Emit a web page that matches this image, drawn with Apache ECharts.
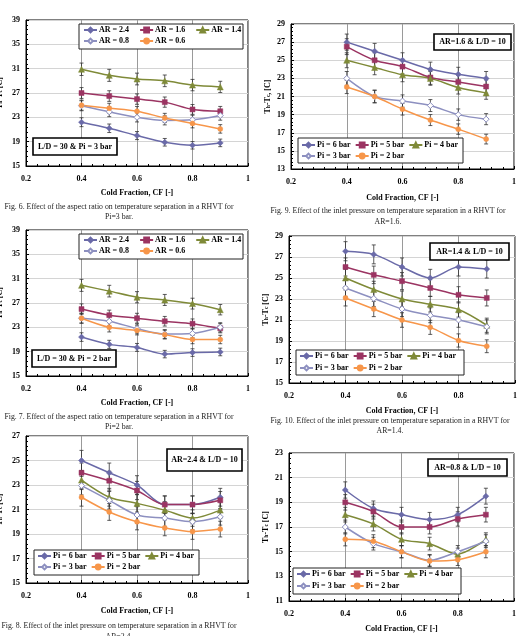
<!DOCTYPE html>
<html>
<head>
<meta charset="utf-8">
<script src="https://cdn.jsdelivr.net/npm/echarts@6/dist/echarts.min.js"></script>
<style>
  html, body { margin: 0; padding: 0; background: #fff; }
  #chart { width: 526px; height: 636px; }
</style>
</head>
<body>
<div id="chart"></div>
<script>
// cold fraction values (x)
const cf = [0.4, 0.5, 0.6, 0.7, 0.8, 0.9];
const arNames = ['AR = 2.4', 'AR = 1.6', 'AR = 1.4', 'AR = 0.8', 'AR = 0.6'];
const piNames = ['Pi = 6 bar', 'Pi = 5 bar', 'Pi = 4 bar', 'Pi = 3 bar', 'Pi = 2 bar'];

// Fig. 6 : L/D = 30, Pi = 3 bar
const f6_ar24 = [22.2, 21.2, 20.0, 18.9, 18.4, 18.8];
const f6_ar16 = [27.0, 26.5, 26.0, 25.5, 24.3, 24.0];
const f6_ar14 = [30.9, 29.9, 29.3, 29.0, 28.3, 28.0];
const f6_ar08 = [24.9, 23.9, 23.0, 22.5, 22.6, 23.3];
const f6_ar06 = [25.0, 24.5, 24.0, 22.9, 22.0, 21.1];

// Fig. 7 : L/D = 30, Pi = 2 bar
const f7_ar24 = [21.4, 20.2, 19.7, 18.6, 18.85, 18.95];
const f7_ar16 = [26.0, 25.0, 24.5, 24.0, 23.6, 22.85];
const f7_ar14 = [29.9, 28.95, 27.95, 27.5, 26.9, 25.9];
const f7_ar08 = [24.5, 24.0, 22.8, 21.9, 22.0, 23.0];
const f7_ar06 = [24.5, 23.0, 22.5, 21.8, 21.0, 21.0];

// Fig. 8 : AR = 2.4, L/D = 10
const f8_p6 = [25.0, 24.0, 23.0, 21.4, 21.4, 22.0];
const f8_p5 = [24.0, 23.35, 22.55, 21.4, 21.4, 21.75];
const f8_p4 = [23.4, 22.0, 21.5, 20.95, 20.3, 20.95];
const f8_p3 = [22.95, 21.75, 20.55, 20.3, 20.0, 20.4];
const f8_p2 = [22.0, 20.8, 20.0, 19.5, 19.2, 19.4];

// Fig. 9 : AR = 1.6, L/D = 10
const f9_p6 = [27.0, 26.0, 25.0, 24.0, 23.45, 23.0];
const f9_p5 = [26.5, 25.0, 24.3, 23.1, 22.6, 22.1];
const f9_p4 = [25.0, 24.2, 23.4, 23.0, 22.0, 21.4];
const f9_p3 = [23.0, 21.0, 20.5, 20.0, 19.0, 18.5];
const f9_p2 = [22.05, 21.0, 19.6, 18.4, 17.4, 16.3];

// Fig. 10 : AR = 1.4, L/D = 10
const f10_p6 = [27.55, 27.25, 26.05, 25.0, 26.05, 25.85];
const f10_p5 = [26.05, 25.3, 24.7, 24.05, 23.4, 23.1];
const f10_p4 = [25.0, 23.9, 23.0, 22.5, 22.0, 20.5];
const f10_p3 = [24.05, 23.05, 22.05, 21.45, 21.0, 20.35];
const f10_p2 = [23.1, 22.05, 21.0, 20.3, 19.05, 18.5];

// Fig. 11 : AR = 0.8, L/D = 10
const f11_p6 = [20.0, 18.5, 18.0, 17.6, 18.0, 19.5];
const f11_p5 = [19.0, 18.25, 17.0, 17.0, 17.65, 18.0];
const f11_p4 = [18.0, 17.25, 16.0, 15.65, 14.8, 16.0];
const f11_p3 = [17.0, 15.65, 15.0, 14.3, 15.0, 15.85];
const f11_p2 = [16.0, 15.85, 15.0, 14.25, 14.35, 15.0];

// y axis ranges [min, max, interval]
const yRanges = [[15, 39, 4], [13, 29, 2], [15, 39, 4], [15, 29, 2], [15, 27, 2], [11, 23, 2]];

// relative measurement uncertainty shown as error bars
const errPct = 0.033;

const panels = [
  { names: arNames, data: [f6_ar24, f6_ar16, f6_ar14, f6_ar08, f6_ar06], note: 'L/D = 30 & Pi = 3 bar',
    cap: ['Fig. 6. Effect of the aspect ratio on temperature separation in a RHVT for', 'Pi=3 bar.'] },
  { names: piNames, data: [f9_p6, f9_p5, f9_p4, f9_p3, f9_p2], note: 'AR=1.6 & L/D = 10',
    cap: ['Fig. 9. Effect of the inlet pressure on temperature separation in a RHVT for', 'AR=1.6.'] },
  { names: arNames, data: [f7_ar24, f7_ar16, f7_ar14, f7_ar08, f7_ar06], note: 'L/D = 30 & Pi = 2 bar',
    cap: ['Fig. 7. Effect of the aspect ratio on temperature separation in a RHVT for', 'Pi=2 bar.'] },
  { names: piNames, data: [f10_p6, f10_p5, f10_p4, f10_p3, f10_p2], note: 'AR=1.4 & L/D = 10',
    cap: ['Fig. 10. Effect of the inlet pressure on temperature separation in a RHVT for', 'AR=1.4.'] },
  { names: piNames, data: [f8_p6, f8_p5, f8_p4, f8_p3, f8_p2], note: 'AR=2.4 & L/D = 10',
    cap: ['Fig. 8. Effect of the inlet pressure on temperature separation in a RHVT for', 'AR=2.4.'] },
  { names: piNames, data: [f11_p6, f11_p5, f11_p4, f11_p3, f11_p2], note: 'AR=0.8 & L/D = 10',
    cap: null }
];

// layout (pixels)
const layout = [
  { grid: [26, 20, 222, 146], gap: 23, yGap: 22, leg: [79, 24, 164, 25], rows: [31, 42], legLeft: 83, legGap: 10,
    box: [33, 138, 84, 17], capX: 119, capY: [207, 217] },
  { grid: [291, 24, 223, 145], gap: 25, yGap: 19, leg: [298, 138, 165, 25], rows: [146, 157], legLeft: 301, legGap: 4,
    box: [434, 34, 77, 16], capX: 388, capY: [211, 222] },
  { grid: [26, 230, 222, 146], gap: 23, yGap: 22, leg: [79, 234, 164, 25], rows: [241, 252], legLeft: 83, legGap: 10,
    box: [32, 350, 84, 17], capX: 119, capY: [417, 427] },
  { grid: [289, 236, 226, 147], gap: 24, yGap: 19, leg: [296, 350, 168, 25], rows: [357, 369], legLeft: 299, legGap: 4,
    box: [430, 243, 79, 17], capX: 390, capY: [421, 431] },
  { grid: [26, 436, 222, 147], gap: 24, yGap: 22, leg: [34, 550, 165, 25], rows: [557, 568], legLeft: 37, legGap: 4,
    box: [167, 449, 75, 22], capX: 119, capY: [626, 637] },
  { grid: [289, 453, 225, 148], gap: 24, yGap: 19, leg: [293, 568, 168, 26], rows: [575, 587], legLeft: 296, legGap: 4,
    box: [428, 459, 79, 17], capX: 390, capY: null }
];

const styles = [
  { color: '#6a6aa8', symbol: 'diamond', size: 6 },
  { color: '#9b3462', symbol: 'rect', size: 5 },
  { color: '#7f8a38', symbol: 'triangle', size: 6 },
  { color: '#8d90c0', symbol: 'diamond', size: 6, hollow: true },
  { color: '#f7964a', symbol: 'circle', size: 5 }
];

const FONT = '"Liberation Serif", "DejaVu Serif", serif';
const boldText = { fontFamily: FONT, fontWeight: 'bold', fontSize: 8, color: '#000' };

function renderErr(params, api) {
  const x = api.value(0);
  const lo = api.coord([x, api.value(1)]);
  const hi = api.coord([x, api.value(2)]);
  const w = 2;
  const st = { stroke: '#333', lineWidth: 0.8 };
  return {
    type: 'group',
    children: [
      { type: 'line', shape: { x1: lo[0], y1: lo[1], x2: hi[0], y2: hi[1] }, style: st },
      { type: 'line', shape: { x1: lo[0] - w, y1: lo[1], x2: lo[0] + w, y2: lo[1] }, style: st },
      { type: 'line', shape: { x1: hi[0] - w, y1: hi[1], x2: hi[0] + w, y2: hi[1] }, style: st }
    ]
  };
}

const grids = [], xAxes = [], yAxes = [], series = [], legends = [], graphics = [];

panels.forEach((p, i) => {
  const L = layout[i];
  const yr = yRanges[i];
  grids.push({ left: L.grid[0], top: L.grid[1], width: L.grid[2], height: L.grid[3],
    outerBoundsMode: 'none', containLabel: false,
    show: true, borderColor: '#000', borderWidth: 1, backgroundColor: 'transparent' });

  xAxes.push({
    type: 'value', gridIndex: i, min: 0.2, max: 1, interval: 0.2,
    name: 'Cold Fraction, CF [-]', nameLocation: 'middle', nameGap: L.gap,
    nameTextStyle: boldText,
    axisLine: { lineStyle: { color: '#000', width: 1 } },
    axisTick: { inside: true, length: 3, lineStyle: { color: '#000' } },
    minorTick: { show: true, splitNumber: 5, length: 2, lineStyle: { color: '#000' } },
    axisLabel: { ...boldText, margin: 9 },
    splitLine: { show: true, lineStyle: { color: '#9a9a9a', width: 1 } }
  });

  yAxes.push({
    type: 'value', gridIndex: i, min: yr[0], max: yr[1], interval: yr[2],
    name: i === 1 ? 'T{s|h}-T{s|c}, [C]' : 'T{s|h}-T{s|c} [C]',
    nameLocation: 'middle', nameGap: L.yGap,
    nameTextStyle: { ...boldText, rich: { s: { fontFamily: FONT, fontWeight: 'bold', fontSize: 5.5, verticalAlign: 'bottom', padding: [3, 0, 0, 0] } } },
    axisLine: { lineStyle: { color: '#000', width: 1 } },
    axisTick: { inside: true, length: 3, lineStyle: { color: '#000' } },
    minorTick: { show: true, splitNumber: 5, length: 2, lineStyle: { color: '#000' } },
    axisLabel: { ...boldText, margin: 6 },
    splitLine: { show: true, lineStyle: { color: '#d4d4d4', width: 1 } }
  });

  // error bars
  const errData = [];
  p.data.forEach(arr => {
    arr.forEach((v, k) => errData.push([cf[k], v * (1 - errPct), v * (1 + errPct)]));
  });
  series.push({
    type: 'custom', xAxisIndex: i, yAxisIndex: i, silent: true, z: 1,
    renderItem: renderErr, encode: { x: 0, y: [1, 2] }, data: errData
  });

  p.data.forEach((arr, s) => {
    const st = styles[s];
    series.push({
      name: p.names[s], type: 'line', xAxisIndex: i, yAxisIndex: i,
      data: arr.map((v, k) => [cf[k], v]),
      smooth: 0.3, symbol: st.symbol, symbolSize: st.size, showAllSymbol: true,
      lineStyle: { color: st.color, width: 1.5 },
      itemStyle: st.hollow
        ? { color: '#fff', borderColor: st.color, borderWidth: 1 }
        : { color: st.color, borderColor: st.color, borderWidth: 0.5 },
      z: 2, silent: true, animation: false
    });
  });

  // legend box and rows
  graphics.push({ type: 'rect', z: 10, silent: true,
    shape: { x: L.leg[0], y: L.leg[1], width: L.leg[2], height: L.leg[3] },
    style: { fill: '#fff', stroke: '#222', lineWidth: 1 } });
  [[0, 1, 2], [3, 4]].forEach((row, r) => {
    legends.push({
      left: L.legLeft, top: L.rows[r] - 5, padding: 0, itemGap: L.legGap,
      itemWidth: 13, itemHeight: 6, selectedMode: false, z: 20,
      textStyle: { ...boldText, padding: [0, 0, 0, -3] },
      data: row.map(k => p.names[k])
    });
  });

  // annotation box
  graphics.push({ type: 'rect', z: 10, silent: true,
    shape: { x: L.box[0], y: L.box[1], width: L.box[2], height: L.box[3] },
    style: { fill: '#fff', stroke: '#000', lineWidth: 1.6 } });
  graphics.push({ type: 'text', z: 11, silent: true,
    x: L.box[0] + L.box[2] / 2, y: L.box[1] + L.box[3] / 2,
    style: { text: p.note, fill: '#000', font: 'bold 8px ' + FONT, align: 'center', verticalAlign: 'middle' } });

  // caption
  if (p.cap) {
    p.cap.forEach((line, r) => {
      graphics.push({ type: 'text', silent: true, x: L.capX, y: L.capY[r],
        style: { text: line, fill: '#222', font: '7.8px ' + FONT, align: 'center', verticalAlign: 'middle' } });
    });
  }
});

const chart = echarts.init(document.getElementById('chart'), null, { renderer: 'canvas' });
chart.setOption({
  backgroundColor: '#fff',
  animation: false,
  grid: grids,
  xAxis: xAxes,
  yAxis: yAxes,
  legend: legends,
  graphic: graphics,
  series: series
});
</script>
</body>
</html>
